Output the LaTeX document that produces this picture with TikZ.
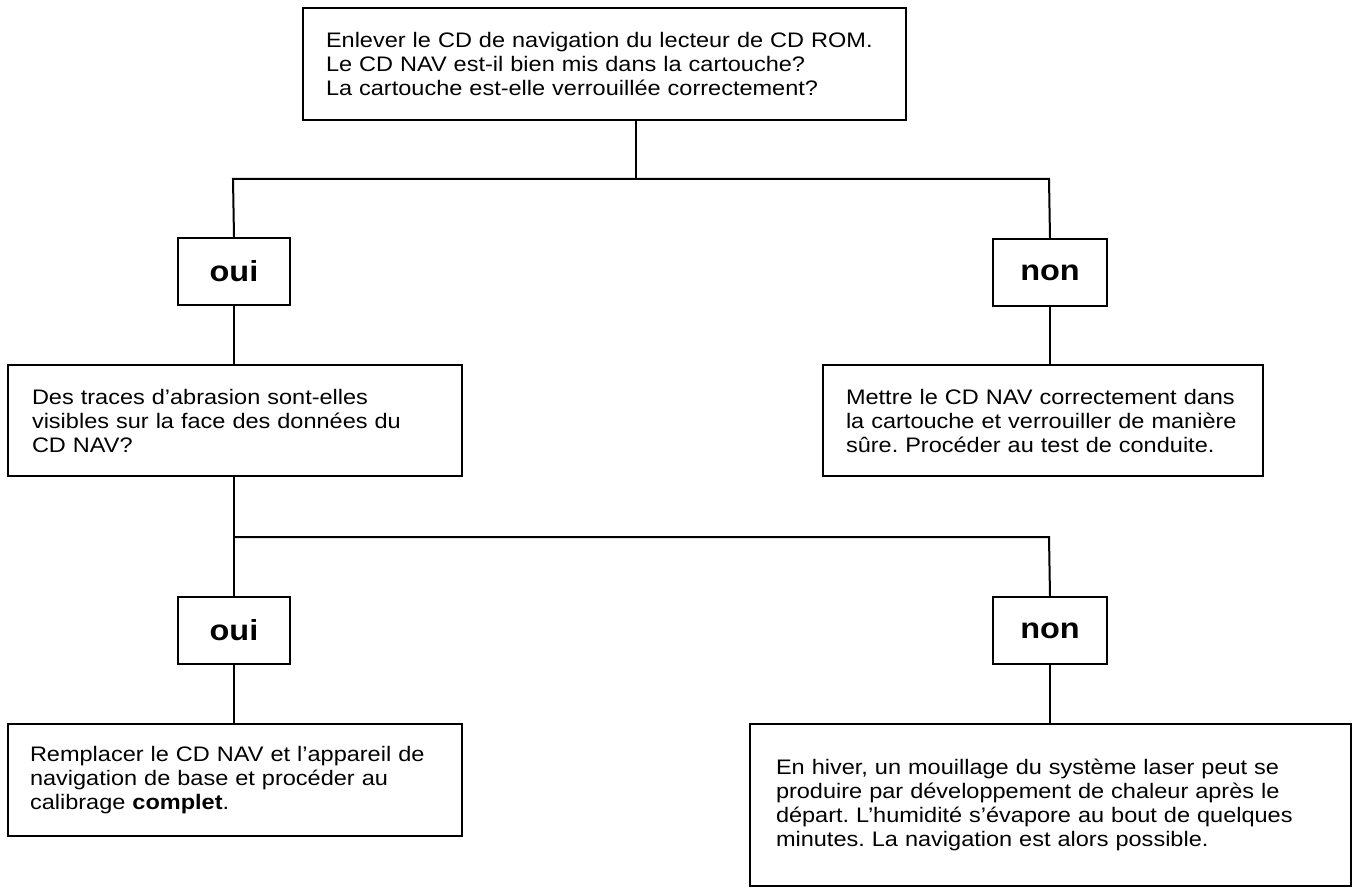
\documentclass[tikz,border=0pt]{standalone}
\usepackage{fontspec}
\setmainfont{Liberation Sans}[FakeStretch=1.12]
\frenchspacing
\begin{document}
\begin{tikzpicture}[x=1pt,y=-1pt,
  line width=2pt,
  box/.style={draw, line width=2pt, anchor=north west, align=left,
    inner ysep=0pt, inner xsep=23pt,
    font=\fontsize{21}{24}\selectfont},
  yn/.style={draw, line width=2pt, anchor=north west, align=center,
    minimum width=112pt, minimum height=67pt, inner sep=0pt,
    font=\fontsize{29}{32}\selectfont\bfseries},
  conn/.style={line width=2pt}]
\useasboundingbox (0,0) rectangle (1358,890);

\node[box, minimum width=603pt, minimum height=112pt, text width=557pt] (top) at (302,7)
  {Enlever le CD de navigation du lecteur de CD ROM.\\
   Le CD NAV est-il bien mis dans la cartouche?\\
   La cartouche est-elle verrouillée correctement?};

\node[yn] (oui1) at (177,237) {oui};
\node[yn, minimum width=114pt] (non1) at (992,238) {non};

\node[box, minimum width=454pt, minimum height=111pt, text width=406pt, inner xsep=24pt] (q2) at (7,364)
  {Des traces d’abrasion sont-elles\\
   visibles sur la face des données du\\
   CD NAV?};

\node[box, minimum width=440pt, minimum height=111pt, text width=394pt] (m) at (822,364)
  {Mettre le CD NAV correctement dans\\
   la cartouche et verrouiller de manière\\
   sûre. Procéder au test de conduite.};

\node[yn] (oui2) at (177,596) {oui};
\node[yn, minimum width=114pt] (non2) at (992,596) {non};

\node[box, minimum width=454pt, minimum height=112pt, text width=410pt, inner xsep=22pt] (a1) at (7,723)
  {Remplacer le CD NAV et l’appareil de\\
   navigation de base et procéder au\\
   calibrage \textbf{complet}.};

\node[box, minimum width=601pt, minimum height=162pt, text width=549pt, inner xsep=26pt] (a2) at (749,723)
  {En hiver, un mouillage du système laser peut se\\
   produire par développement de chaleur après le\\
   départ. L’humidité s’évapore au bout de quelques\\
   minutes. La navigation est alors possible.};

\coordinate (j1) at (636,179);
\coordinate (j1l) at (233,179);
\coordinate (j1r) at (1049,179);
\coordinate (j2l) at (233,537);
\coordinate (j2r) at (1049,537);

\draw[conn] (top.south -| j1) -- (j1);
\draw[conn] (oui1.north) -- (j1l) -- (j1r) -- (non1.north);
\draw[conn] (oui1.south) -- (oui1.south |- q2.north);
\draw[conn] (non1.south) -- (non1.south |- m.north);
\draw[conn] (q2.south -| oui2.north) -- (oui2.north);
\draw[conn] (j2l) -- (j2r) -- (non2.north);
\draw[conn] (oui2.south) -- (oui2.south |- a1.north);
\draw[conn] (non2.south) -- (non2.south |- a2.north);
\end{tikzpicture}
\end{document}
